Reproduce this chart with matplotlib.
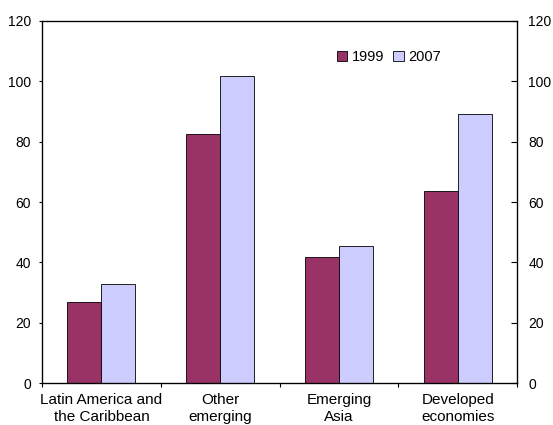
import matplotlib
matplotlib.use('Agg')
import matplotlib.pyplot as plt
import numpy as np

categories = ['Latin America and\nthe Caribbean', 'Other\nemerging',
              'Emerging\nAsia', 'Developed\neconomies']
vals_1999 = [26.8, 82.5, 41.8, 63.6]
vals_2007 = [32.8, 101.8, 45.4, 89.2]

plt.rcParams['font.family'] = ['Liberation Sans', 'DejaVu Sans']
plt.rcParams['font.size'] = 10

fig = plt.figure(figsize=(5.53, 4.25), dpi=100)
ax = fig.add_axes([0.076, 0.0988, 0.859, 0.8518])

x = np.arange(len(categories))
w = 0.286
ax.bar(x - w / 2, vals_1999, w, color='#993366', edgecolor='black', linewidth=0.6, label='1999')
ax.bar(x + w / 2, vals_2007, w, color='#CCCCFF', edgecolor='black', linewidth=0.6, label='2007')

ax.set_xlim(-0.5, len(categories) - 0.5)
ax.set_ylim(0, 120)
ax.set_yticks(range(0, 121, 20))
ax.set_xticks(np.arange(-0.5, len(categories), 1.0))
ax.set_xticklabels([])
ax.set_xticks(x, minor=True)
ax.set_xticklabels(categories, minor=True, va='top', linespacing=1.2, fontsize=11)
ax.tick_params(axis='x', which='minor', length=0, pad=7.5)
ax.tick_params(axis='x', which='major', length=3, direction='out')
ax.tick_params(axis='y', length=2.5, direction='out', pad=5.5, labelsize=10)

for s in ax.spines.values():
    s.set_linewidth(0.9)

ax2 = ax.twinx()
ax2.set_ylim(0, 120)
ax2.set_yticks(range(0, 121, 20))
ax2.tick_params(axis='y', length=4, direction='in', pad=8, labelsize=10)

ax.legend(loc='center left', bbox_to_anchor=(0.62, 0.90), ncol=2, frameon=False,
          fontsize=10.5, handlelength=0.75, handleheight=0.75, handletextpad=0.3,
          columnspacing=0.6, borderaxespad=0, borderpad=0)

fig.savefig('out.png', dpi=100)
